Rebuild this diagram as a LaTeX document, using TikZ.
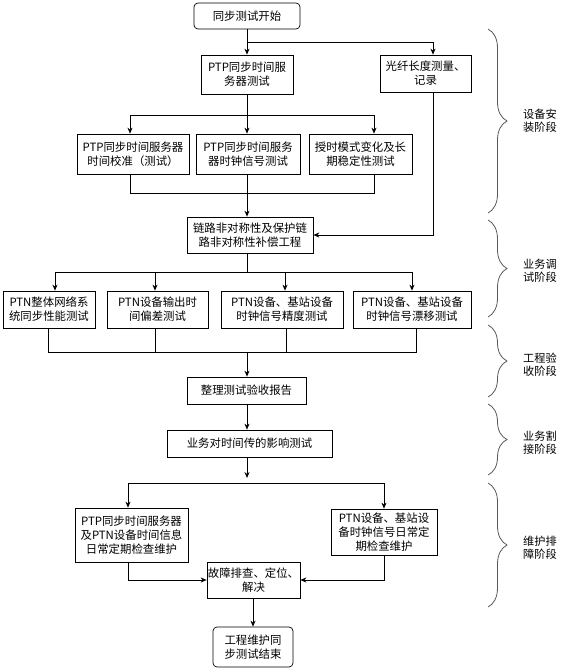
\documentclass[tikz,border=0pt]{standalone}
\usepackage{fontspec}
\setmainfont{Noto Sans CJK SC}
\usetikzlibrary{arrows.meta,decorations.pathreplacing,calc}
\begin{document}
\begin{tikzpicture}[x=1pt,y=-1pt,
  font=\fontsize{11.4}{14}\selectfont,
  box/.style={draw=black, line width=0.7pt, rectangle, align=center, inner sep=0pt},
  rbox/.style={box, rounded corners=4pt},
  ln/.style={line width=0.7pt},
  arr/.style={ln, -{Stealth[length=6pt,width=5pt]}},
  brc/.style={draw=black!65, line width=0.8pt, decorate, decoration={brace, amplitude=19pt, aspect=0.5}},
  lab/.style={align=center, inner sep=0pt, font=\fontsize{11.2}{13}\selectfont}]
\useasboundingbox (0,0) rectangle (570,670);

% nodes
\node[rbox, minimum width=106pt, minimum height=26pt] (start) at (247,16) {同步测试开始};
\node[box, minimum width=92pt, minimum height=39pt] (ptp) at (247,74.5) {PTP同步时间服\\务器测试};
\node[box, minimum width=91pt, minimum height=37pt] (fiber) at (425.5,73.5) {光纤长度测量、\\记录};

\node[box, minimum width=112pt, minimum height=40pt] (r2a) at (133,154) {PTP同步时间服务器\\时间校准（测试）};
\node[box, minimum width=104pt, minimum height=40pt] (r2b) at (248,154) {PTP同步时间服务\\器时钟信号测试};
\node[box, minimum width=103pt, minimum height=40pt] (r2c) at (360.5,154) {授时模式变化及长\\期稳定性测试};

\node[box, minimum width=126pt, minimum height=36pt] (link) at (250,235) {链路非对称性及保护链\\路非对称性补偿工程};

\node[box, minimum width=92pt, minimum height=37pt] (r4a) at (49,309.5) {PTN整体网络系\\统同步性能测试};
\node[box, minimum width=101pt, minimum height=37pt] (r4b) at (157.5,309.5) {PTN设备输出时\\间偏差测试};
\node[box, minimum width=122pt, minimum height=37pt] (r4c) at (282,309.5) {PTN设备、基站设备\\时钟信号精度测试};
\node[box, minimum width=118pt, minimum height=37pt] (r4d) at (412,309.5) {PTN设备、基站设备\\时钟信号漂移测试};

\node[box, minimum width=119pt, minimum height=27pt] (report) at (246.5,390.5) {整理测试验收报告};
\node[box, minimum width=165pt, minimum height=27pt] (impact) at (249.5,443.5) {业务对时间传的影响测试};

\node[box, minimum width=113pt, minimum height=54pt] (lm) at (131.5,535) {PTP同步时间服务器\\及PTN设备时间信息\\日常定期检查维护};
\node[box, minimum width=106pt, minimum height=46pt] (rm) at (384,532) {PTN设备、基站设\\备时钟信号日常定\\期检查维护};
\node[box, minimum width=93pt, minimum height=36pt] (fault) at (253.5,580) {故障排查、定位、\\解决};
\node[rbox, minimum width=80pt, minimum height=40pt] (end) at (253,647) {工程维护同\\步测试结束};

% connectors
\coordinate (s1) at (247,42);
\draw[arr] (start.south) -- (ptp.north);
\draw[ln] (s1) -- (433,42) coordinate (s1r);
\draw[arr] (s1r) -- ([xshift=7.5pt]fiber.north);

\coordinate (s2l) at (130,115);
\coordinate (s2r) at (374,115);
\draw[ln] (ptp.south) -- (247,115);
\draw[ln] (s2l) -- (s2r);
\draw[arr] (s2l) -- ([xshift=-3pt]r2a.north);
\draw[arr] (247,115) -- (r2b.north -| 247,115);
\draw[arr] (s2r) -- ([xshift=13.5pt]r2c.north);

\coordinate (m2l) at (130,193);
\coordinate (m2r) at (374,193);
\draw[ln] ([xshift=-3pt]r2a.south) -- (m2l) -- (m2r) -- ([xshift=13.5pt]r2c.south);
\draw[arr] (r2b.south -| 247,0) -- (link.north -| 247,0);
\draw[arr] ([xshift=7.5pt]fiber.south) |- (link.east);

\coordinate (s4l) at (55,272);
\coordinate (s4r) at (412,272);
\draw[ln] (link.south -| 247,0) -- (247,272);
\draw[ln] (s4l) -- (s4r);
\draw[arr] (s4l) -- ([xshift=6pt]r4a.north);
\draw[arr] (155,272) -- ([xshift=-2.5pt]r4b.north);
\draw[arr] (285,272) -- ([xshift=3pt]r4c.north);
\draw[arr] (s4r) -- (r4d.north);

\coordinate (m4l) at (48,352);
\coordinate (m4r) at (416,352);
\draw[ln] ([xshift=-1pt]r4a.south) -- (m4l) -- (m4r) -- ([xshift=4pt]r4d.south);
\draw[ln] ([xshift=-2.5pt]r4b.south) -- (155,352);
\draw[ln] ([xshift=4pt]r4c.south) -- (286,352);
\draw[arr] (247,352) -- (report.north -| 247,0);

\draw[arr] (report.south -| 247,0) -- (impact.north -| 247,0);
\coordinate (imp) at (247,478);
\draw[arr] (impact.south -| 247,0) -- (imp);

\coordinate (spL) at (128,483);
\coordinate (spR) at (384,483);
\draw[ln] (spL) -- (spR);
\draw[arr] (spL) -- (lm.north -| spL);
\draw[arr] (spR) -- (rm.north);

\draw[arr] (lm.south -| spL) |- (fault.west);
\draw[arr] (rm.south) |- (fault.east);
\draw[arr] (fault.south -| end.north) -- (end.north);

% braces
\draw[brc] (488,29) -- (488,213);
\draw[brc] (488,220) -- (488,317);
\draw[brc] (488,325) -- (488,397);
\draw[brc] (488,404) -- (488,475);
\draw[brc] (488,483) -- (488,607);

\node[lab] (L1) at (540,121) {设备安\\装阶段};
\node[lab] (L2) at (540,271) {业务调\\试阶段};
\node[lab] (L3) at (540,365) {工程验\\收阶段};
\node[lab] (L4) at (540,443) {业务割\\接阶段};
\node[lab] (L5) at (540,548) {维护排\\障阶段};
\end{tikzpicture}
\end{document}
